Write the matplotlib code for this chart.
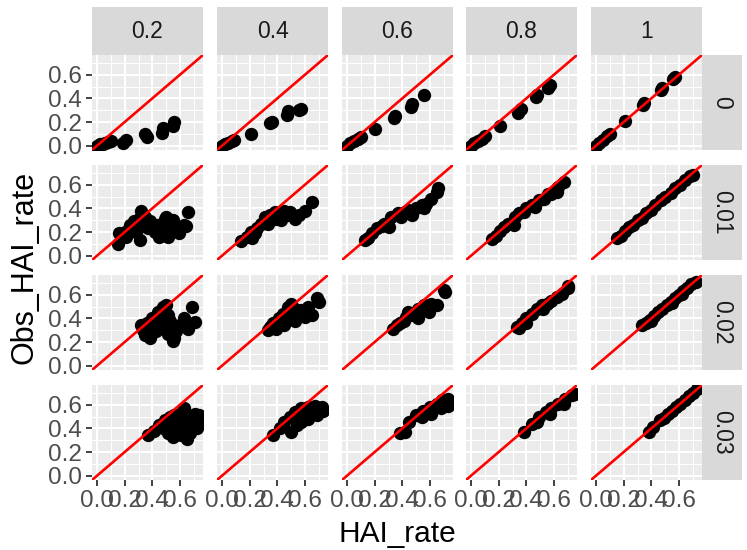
import matplotlib
matplotlib.use("Agg")
import matplotlib.pyplot as plt

plt.rcParams['font.family'] = ['Liberation Sans', 'DejaVu Sans']

# facet levels
col_levels = ["0.2", "0.4", "0.6", "0.8", "1"]
row_levels = ["0", "0.01", "0.02", "0.03"]
tick_vals = [0.0, 0.2, 0.4, 0.6]
tick_labels = ["0.0", "0.2", "0.4", "0.6"]

# row "0"
hai_0_02 = [0.0, 0.02, 0.04, 0.06, 0.08, 0.10, 0.19, 0.21, 0.35, 0.36, 0.47, 0.48, 0.55, 0.56]
obs_0_02 = [0.0, 0.01, 0.01, 0.02, 0.03, 0.04, 0.02, 0.05, 0.10, 0.07, 0.11, 0.15, 0.17, 0.20]
hai_0_04 = [0.0, 0.02, 0.04, 0.07, 0.09, 0.21, 0.35, 0.36, 0.47, 0.48, 0.56, 0.57]
obs_0_04 = [0.0, 0.01, 0.02, 0.04, 0.05, 0.10, 0.19, 0.20, 0.26, 0.29, 0.30, 0.31]
hai_0_06 = [0.0, 0.02, 0.05, 0.08, 0.10, 0.20, 0.34, 0.35, 0.46, 0.47, 0.56]
obs_0_06 = [0.0, 0.02, 0.04, 0.06, 0.07, 0.14, 0.23, 0.25, 0.33, 0.35, 0.43]
hai_0_08 = [0.0, 0.02, 0.05, 0.08, 0.10, 0.21, 0.34, 0.36, 0.47, 0.48, 0.56, 0.57]
obs_0_08 = [0.0, 0.02, 0.04, 0.06, 0.08, 0.17, 0.28, 0.31, 0.41, 0.43, 0.49, 0.51]
hai_0_1 = [0.0, 0.02, 0.05, 0.08, 0.10, 0.21, 0.34, 0.35, 0.47, 0.48, 0.56, 0.57]
obs_0_1 = [0.0, 0.02, 0.05, 0.08, 0.10, 0.21, 0.34, 0.36, 0.47, 0.49, 0.56, 0.58]

# row "0.01"
hai_1_02 = [0.15, 0.16, 0.21, 0.24, 0.24, 0.27, 0.30, 0.32, 0.35, 0.31, 0.37, 0.38, 0.42, 0.44, 0.45,
            0.49, 0.50, 0.51, 0.51, 0.55, 0.59, 0.63, 0.64, 0.66, 0.28, 0.34, 0.40, 0.47, 0.55, 0.20]
obs_1_02 = [0.10, 0.19, 0.16, 0.22, 0.26, 0.29, 0.31, 0.38, 0.33, 0.13, 0.23, 0.29, 0.20, 0.26, 0.16,
            0.31, 0.33, 0.23, 0.16, 0.24, 0.19, 0.26, 0.25, 0.37, 0.20, 0.25, 0.27, 0.21, 0.30, 0.20]
hai_1_04 = [0.14, 0.18, 0.21, 0.24, 0.25, 0.28, 0.31, 0.33, 0.35, 0.38, 0.42, 0.43, 0.45, 0.48, 0.49,
            0.53, 0.56, 0.60, 0.65, 0.39, 0.30, 0.22]
obs_1_04 = [0.12, 0.16, 0.20, 0.19, 0.23, 0.27, 0.33, 0.27, 0.34, 0.37, 0.34, 0.30, 0.38, 0.34, 0.37,
            0.31, 0.34, 0.38, 0.45, 0.31, 0.28, 0.15]
hai_1_06 = [0.13, 0.15, 0.18, 0.22, 0.27, 0.30, 0.32, 0.37, 0.39, 0.42, 0.47, 0.50, 0.54, 0.56, 0.57,
            0.61, 0.65, 0.66, 0.25, 0.44]
obs_1_06 = [0.13, 0.15, 0.19, 0.23, 0.27, 0.24, 0.33, 0.36, 0.33, 0.37, 0.34, 0.40, 0.43, 0.40, 0.44,
            0.48, 0.54, 0.57, 0.25, 0.39]
hai_1_08 = [0.15, 0.18, 0.21, 0.24, 0.27, 0.31, 0.32, 0.35, 0.38, 0.40, 0.44, 0.46, 0.49, 0.53, 0.56,
            0.58, 0.62, 0.63, 0.67]
obs_1_08 = [0.14, 0.17, 0.21, 0.24, 0.27, 0.26, 0.33, 0.36, 0.37, 0.40, 0.43, 0.41, 0.47, 0.48, 0.52,
            0.52, 0.54, 0.58, 0.62]
hai_1_1 = [0.15, 0.18, 0.21, 0.24, 0.27, 0.30, 0.33, 0.36, 0.40, 0.43, 0.47, 0.50, 0.54, 0.57, 0.61,
           0.64, 0.68, 0.70]
obs_1_1 = [0.15, 0.17, 0.21, 0.24, 0.26, 0.30, 0.32, 0.36, 0.39, 0.43, 0.47, 0.50, 0.53, 0.57, 0.60,
           0.64, 0.67, 0.68]

# row "0.02"
hai_2_02 = [0.32, 0.33, 0.35, 0.37, 0.38, 0.40, 0.42, 0.43, 0.44, 0.47, 0.48, 0.49, 0.50, 0.51, 0.51,
            0.54, 0.55, 0.56, 0.57, 0.60, 0.63, 0.66, 0.69, 0.71, 0.45, 0.53, 0.36]
obs_2_02 = [0.34, 0.30, 0.26, 0.31, 0.23, 0.40, 0.34, 0.29, 0.45, 0.37, 0.50, 0.33, 0.51, 0.43, 0.27,
            0.34, 0.21, 0.23, 0.29, 0.34, 0.40, 0.31, 0.50, 0.37, 0.40, 0.38, 0.36]
hai_2_04 = [0.33, 0.35, 0.37, 0.39, 0.41, 0.44, 0.45, 0.48, 0.50, 0.53, 0.53, 0.57, 0.60, 0.62, 0.65,
            0.69, 0.70, 0.47]
obs_2_04 = [0.30, 0.33, 0.36, 0.31, 0.40, 0.44, 0.34, 0.50, 0.52, 0.48, 0.38, 0.47, 0.41, 0.50, 0.43,
            0.57, 0.54, 0.42]
hai_2_06 = [0.33, 0.36, 0.38, 0.41, 0.43, 0.44, 0.48, 0.51, 0.51, 0.56, 0.59, 0.61, 0.65, 0.71, 0.70]
obs_2_06 = [0.31, 0.34, 0.36, 0.38, 0.41, 0.45, 0.43, 0.40, 0.48, 0.51, 0.45, 0.52, 0.51, 0.62, 0.64]
hai_2_08 = [0.33, 0.35, 0.37, 0.40, 0.40, 0.44, 0.48, 0.51, 0.52, 0.55, 0.58, 0.62, 0.66, 0.70, 0.70]
obs_2_08 = [0.33, 0.32, 0.36, 0.36, 0.40, 0.44, 0.48, 0.51, 0.48, 0.52, 0.55, 0.58, 0.61, 0.67, 0.66]
hai_2_1 = [0.33, 0.36, 0.39, 0.42, 0.45, 0.48, 0.51, 0.54, 0.57, 0.60, 0.63, 0.66, 0.69, 0.72, 0.40, 0.55, 0.62]
obs_2_1 = [0.34, 0.36, 0.39, 0.42, 0.45, 0.48, 0.51, 0.54, 0.57, 0.60, 0.63, 0.66, 0.69, 0.71, 0.38, 0.53, 0.61]

# row "0.03"
hai_3_02 = [0.37, 0.41, 0.45, 0.48, 0.49, 0.51, 0.53, 0.54, 0.55, 0.56, 0.57, 0.59, 0.60, 0.61, 0.62,
            0.63, 0.65, 0.66, 0.67, 0.68, 0.71, 0.72, 0.73, 0.74]
obs_3_02 = [0.34, 0.38, 0.43, 0.40, 0.47, 0.36, 0.50, 0.43, 0.33, 0.51, 0.44, 0.40, 0.52, 0.34, 0.45,
            0.57, 0.31, 0.40, 0.36, 0.48, 0.52, 0.40, 0.45, 0.51]
hai_3_04 = [0.37, 0.42, 0.45, 0.49, 0.50, 0.53, 0.54, 0.57, 0.57, 0.60, 0.62, 0.62, 0.67, 0.67, 0.69,
            0.72, 0.73]
obs_3_04 = [0.34, 0.40, 0.45, 0.50, 0.37, 0.54, 0.43, 0.45, 0.57, 0.52, 0.58, 0.48, 0.59, 0.52, 0.51,
            0.58, 0.55]
hai_3_06 = [0.38, 0.42, 0.45, 0.50, 0.54, 0.55, 0.60, 0.61, 0.65, 0.68, 0.69, 0.73, 0.73]
obs_3_06 = [0.36, 0.37, 0.45, 0.51, 0.50, 0.55, 0.58, 0.52, 0.61, 0.57, 0.64, 0.65, 0.59]
hai_3_08 = [0.38, 0.44, 0.48, 0.49, 0.54, 0.57, 0.58, 0.63, 0.67, 0.68, 0.73, 0.75]
obs_3_08 = [0.37, 0.44, 0.45, 0.50, 0.54, 0.52, 0.57, 0.61, 0.61, 0.65, 0.68, 0.69]
hai_3_1 = [0.38, 0.41, 0.46, 0.49, 0.52, 0.55, 0.58, 0.61, 0.64, 0.67, 0.70, 0.73, 0.75]
obs_3_1 = [0.37, 0.41, 0.47, 0.49, 0.52, 0.55, 0.58, 0.61, 0.64, 0.67, 0.70, 0.73, 0.76]

panels = [
    [(hai_0_02, obs_0_02), (hai_0_04, obs_0_04), (hai_0_06, obs_0_06), (hai_0_08, obs_0_08), (hai_0_1, obs_0_1)],
    [(hai_1_02, obs_1_02), (hai_1_04, obs_1_04), (hai_1_06, obs_1_06), (hai_1_08, obs_1_08), (hai_1_1, obs_1_1)],
    [(hai_2_02, obs_2_02), (hai_2_04, obs_2_04), (hai_2_06, obs_2_06), (hai_2_08, obs_2_08), (hai_2_1, obs_2_1)],
    [(hai_3_02, obs_3_02), (hai_3_04, obs_3_04), (hai_3_06, obs_3_06), (hai_3_08, obs_3_08), (hai_3_1, obs_3_1)],
]

W, H = 747, 550
fig = plt.figure(figsize=(W / 100, H / 100), dpi=100)
fig.patch.set_facecolor("white")


def box(left, top, w, h):
    # pixel box (from top-left) -> figure fraction
    return [left / W, 1 - (top + h) / H, w / W, h / H]


col_left = [92, 217, 342, 466, 591]
row_top = [55, 165, 275, 385]
pw, ph = 111, 95
lim = (-0.0365, 0.7665)

for i, rtop in enumerate(row_top):
    for j, cleft in enumerate(col_left):
        ax = fig.add_axes(box(cleft, rtop, pw, ph))
        ax.set_facecolor("#EBEBEB")
        for s in ax.spines.values():
            s.set_visible(False)
        ax.set_xlim(lim)
        ax.set_ylim(lim)
        ax.set_xticks(tick_vals)
        ax.set_yticks(tick_vals)
        ax.set_xticks([0.1, 0.3, 0.5, 0.7], minor=True)
        ax.set_yticks([0.1, 0.3, 0.5, 0.7], minor=True)
        ax.grid(True, which="major", color="white", linewidth=1.5)
        ax.grid(True, which="minor", color="white", linewidth=0.75)
        ax.set_axisbelow(True)
        ax.tick_params(which="minor", length=0)
        ax.tick_params(which="major", length=4.5, width=1.3, color="#333333",
                       labelsize=17.5, labelcolor="#4D4D4D", pad=2.5)
        if j == 0:
            ax.set_yticklabels(tick_labels)
        else:
            ax.tick_params(axis="y", length=0, labelleft=False)
        if i == len(row_top) - 1:
            ax.set_xticklabels(tick_labels)
        else:
            ax.tick_params(axis="x", length=0, labelbottom=False)

        x, y = panels[i][j]
        ax.scatter(x, y, s=92, color="black", linewidths=0, zorder=2)
        ax.plot(lim, lim, color="#FF0000", linewidth=1.9, zorder=3)

# top strips
for j, cleft in enumerate(col_left):
    sax = fig.add_axes(box(cleft, 7, pw, 48))
    sax.set_facecolor("#D9D9D9")
    sax.set_xticks([])
    sax.set_yticks([])
    for s in sax.spines.values():
        s.set_visible(False)
    sax.text(0.5, 0.5, col_levels[j], ha="center", va="center",
             fontsize=16.5, color="#1A1A1A", transform=sax.transAxes)

# right strips
for i, rtop in enumerate(row_top):
    sax = fig.add_axes(box(702, rtop, 40, ph))
    sax.set_facecolor("#D9D9D9")
    sax.set_xticks([])
    sax.set_yticks([])
    for s in sax.spines.values():
        s.set_visible(False)
    sax.text(0.5, 0.5, row_levels[i], ha="center", va="center", rotation=-90,
             fontsize=16.5, color="#1A1A1A", transform=sax.transAxes)

fig.text(397 / W, 1 - 534 / H, "HAI_rate", ha="center", va="center", fontsize=21.5)
fig.text(25 / W, 1 - 267 / H, "Obs_HAI_rate", ha="center", va="center",
         rotation=90, fontsize=22)

fig.savefig("out.png", dpi=100)
